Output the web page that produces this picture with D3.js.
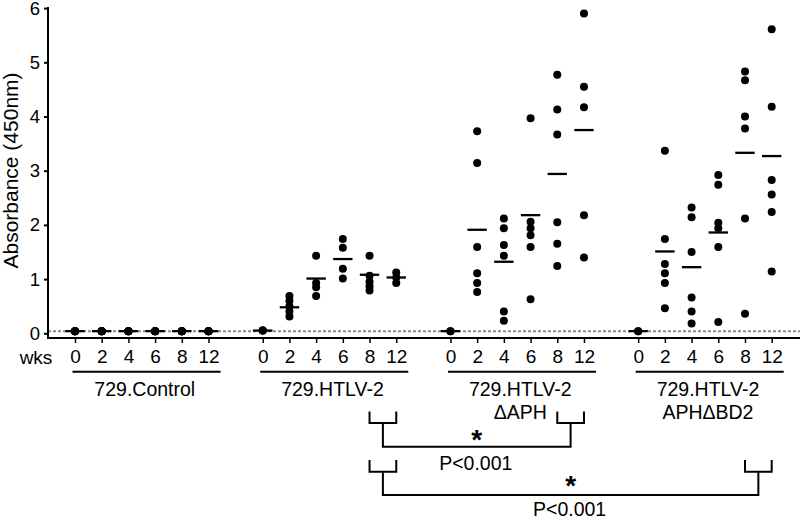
<!DOCTYPE html>
<html><head><meta charset="utf-8">
<script src="https://cdn.jsdelivr.net/npm/d3@7"></script>
<style>
body{margin:0;background:#fff}
svg{display:block}
text{font-family:"Liberation Sans",Arial,sans-serif;fill:#000}
</style>
</head><body>
<svg id="c" width="800" height="519"></svg>
<script>
// ---------- data ----------
const weeks = ["0", "2", "4", "6", "8", "12"];
const groupLine1 = ["729.Control", "729.HTLV-2", "729.HTLV-2", "729.HTLV-2"];
const groupLine2 = ["", "", "\u0394APH", "APH\u0394BD2"];
const yTicks = [0, 1, 2, 3, 4, 5, 6];
const yLabel = "Absorbance (450nm)";
const xLabel = "wks";
const refLevel = 0.04;

const controlValues = [
  [0.04, 0.04, 0.04, 0.04, 0.04], [0.04, 0.04, 0.04, 0.04, 0.04], [0.04, 0.04, 0.04, 0.04, 0.04],
  [0.04, 0.04, 0.04, 0.04, 0.04], [0.04, 0.04, 0.04, 0.04, 0.04], [0.04, 0.04, 0.04, 0.04, 0.04]
];
const controlMeans = [0.04, 0.04, 0.04, 0.04, 0.04, 0.04];

const htlvValues = [
  [0.05, 0.05, 0.05],
  [0.69, 0.60, 0.50, 0.40, 0.31],
  [1.43, 0.93, 0.85, 0.69],
  [1.74, 1.58, 1.19, 1.01],
  [1.43, 1.06, 0.95, 0.87, 0.79],
  [1.12, 1.03, 0.93]
];
const htlvMeans = [0.05, 0.48, 1.01, 1.37, 1.08, 1.03];

const dAphValues = [
  [0.04, 0.04],
  [3.73, 3.14, 1.59, 1.11, 0.93, 0.76],
  [2.12, 1.94, 1.63, 1.43, 0.40, 0.23],
  [3.97, 2.06, 1.94, 1.81, 1.59, 0.63],
  [4.77, 4.13, 3.67, 2.05, 1.65, 1.24],
  [5.90, 4.55, 4.17, 2.18, 1.40]
];
const dAphMeans = [0.04, 1.91, 1.32, 2.18, 2.94, 3.75];

const bd2Values = [
  [0.04, 0.04],
  [3.37, 1.74, 1.28, 1.11, 0.93, 0.46],
  [2.32, 2.14, 1.50, 0.66, 0.40, 0.18],
  [2.92, 2.74, 2.04, 1.94, 1.59, 0.21],
  [4.83, 4.67, 4.00, 3.78, 2.12, 0.36],
  [5.61, 4.18, 2.83, 2.56, 2.24, 1.14]
];
const bd2Means = [0.04, 1.51, 1.22, 1.86, 3.33, 3.27];

const allValues = [controlValues, htlvValues, dAphValues, bd2Values];
const allMeans = [controlMeans, htlvMeans, dAphMeans, bd2Means];

// comparisons: group a vs group b, over week indices
const comparisons = [
  {a: 1, b: 2, wk: [4, 5], mark: "*", p: "P<0.001"},
  {a: 1, b: 3, wk: [4, 5], mark: "*", p: "P<0.001"}
];

// ---------- layout ----------
const svg = d3.select("#c");
const groupStride = 7.03;
const y = d3.scaleLinear().domain([0, 6]).range([333.3, 8.1]);
const x = d3.scaleLinear().domain([0, 3 * groupStride + 5]).range([75, 771.7]);
const slot = (g, i) => g * groupStride + i;
const px = (g, i) => x(slot(g, i));
const axisY = 338;
const axisX = 48;

// reference dotted line
svg.append("line")
  .attr("x1", axisX).attr("x2", 800)
  .attr("y1", y(refLevel)).attr("y2", y(refLevel))
  .attr("stroke", "#8a8a8a").attr("stroke-width", 2)
  .attr("stroke-dasharray", "3,2");

// Y axis
const yAxis = svg.append("g").attr("transform", `translate(${axisX},0)`)
  .call(d3.axisLeft(y).tickValues(yTicks).tickFormat(d3.format("d"))
    .tickSize(4).tickSizeOuter(0).tickPadding(4));
yAxis.select(".domain").remove();
yAxis.selectAll(".tick line").attr("stroke", "#000").attr("stroke-width", 2);
yAxis.selectAll(".tick text").style("font-size", "18.5px").attr("font-family", null);
svg.append("line").attr("x1", axisX).attr("x2", axisX)
  .attr("y1", y(6) - 1).attr("y2", axisY + 1)
  .attr("stroke", "#000").attr("stroke-width", 2);

// X axis
const xTickVals = [], xTickLab = {};
for (let g = 0; g < 4; g++) weeks.forEach((w, i) => { xTickVals.push(slot(g, i)); xTickLab[slot(g, i)] = w; });
const xAxis = svg.append("g").attr("transform", `translate(0,${axisY})`)
  .call(d3.axisBottom(x).tickValues(xTickVals).tickFormat(d => xTickLab[d]).tickSize(5).tickSizeOuter(0).tickPadding(7));
xAxis.select(".domain").remove();
xAxis.selectAll(".tick line").attr("stroke", "#000").attr("stroke-width", 1.5);
xAxis.selectAll(".tick text").style("font-size", "19px").attr("font-family", null);
svg.append("line").attr("x1", axisX - 1).attr("x2", 800)
  .attr("y1", axisY).attr("y2", axisY)
  .attr("stroke", "#000").attr("stroke-width", 2);
svg.append("text").attr("x", 36).attr("y", 364).attr("text-anchor", "middle")
  .style("font-size", "19px").text(xLabel);

// Y label
svg.append("text").attr("transform", `translate(18,170.5) rotate(-90)`)
  .attr("text-anchor", "middle").style("font-size", "21px").text(yLabel);

// group underlines and labels
for (let g = 0; g < 4; g++) {
  svg.append("line").attr("x1", px(g, 0) - 2.5).attr("x2", px(g, 5) + 12)
    .attr("y1", 371.7).attr("y2", 371.7).attr("stroke", "#000").attr("stroke-width", 2);
  const cx = (px(g, 0) + px(g, 5)) / 2 + 3;
  svg.append("text").attr("x", cx).attr("y", 396).attr("text-anchor", "middle")
    .style("font-size", "19.5px").text(groupLine1[g]);
  if (groupLine2[g]) svg.append("text").attr("x", cx).attr("y", 419).attr("text-anchor", "middle")
    .style("font-size", "19.5px").text(groupLine2[g]);
}

// mean lines
for (let g = 0; g < 4; g++) {
  svg.append("g").selectAll("line").data(allMeans[g]).join("line")
    .attr("x1", (d, i) => px(g, i) - 9.7).attr("x2", (d, i) => px(g, i) + 9.7)
    .attr("y1", d => y(d)).attr("y2", d => y(d))
    .attr("stroke", "#000").attr("stroke-width", 2.3);
}

// points
for (let g = 0; g < 4; g++) {
  const pts = [];
  allValues[g].forEach((arr, i) => arr.forEach(v => pts.push({i, v})));
  svg.append("g").selectAll("circle").data(pts).join("circle")
    .attr("cx", d => px(g, d.i)).attr("cy", d => y(d.v)).attr("r", 4).attr("fill", "#000");
}

// comparison brackets
const brk = [
  {top: 411.5, h: 423, bot: 446.7, starY: 448.5, pY: 470.4},
  {top: 460, h: 471.7, bot: 495, starY: 495, pY: 516.4}
];
comparisons.forEach((c, k) => {
  const L = brk[k];
  const gEl = svg.append("g").attr("fill", "none").attr("stroke", "#000").attr("stroke-width", 2);
  const sides = [c.a, c.b].map(g => {
    const x0 = px(g, c.wk[0]), x1 = px(g, c.wk[1]);
    gEl.append("path").attr("d", `M${x0},${L.top}V${L.h}H${x1}V${L.top}`);
    return (x0 + x1) / 2;
  });
  gEl.append("path").attr("d", `M${sides[0]},${L.h}V${L.bot}H${sides[1]}V${L.h}`);
  const mid = (sides[0] + sides[1]) / 2;
  svg.append("text").attr("x", mid).attr("y", L.starY).attr("text-anchor", "middle")
    .style("font-size", "28px").style("font-weight", "bold").text(c.mark);
  svg.append("text").attr("x", mid - 1).attr("y", L.pY).attr("text-anchor", "middle")
    .style("font-size", "19.5px").text(c.p);
});
</script>
</body></html>
